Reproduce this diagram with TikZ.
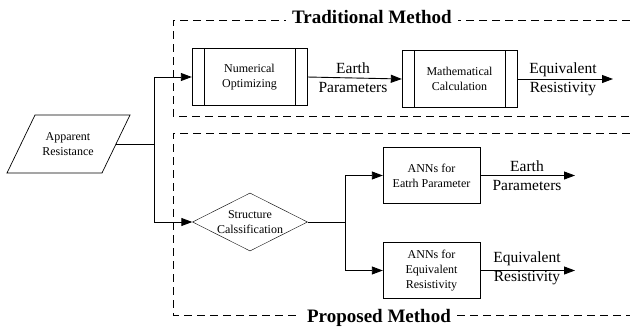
\documentclass[tikz,border=0pt]{standalone}
\usepackage{fontspec}
\setmainfont{Liberation Serif}
\usetikzlibrary{arrows.meta,shapes.geometric}
\tikzset{
  proc/.style={draw,minimum width=115pt,minimum height=57pt,align=center,
    font=\fontsize{12}{15}\selectfont,
    path picture={\draw ([xshift=12pt]path picture bounding box.north west) -- ([xshift=12pt]path picture bounding box.south west);
      \draw ([xshift=-12pt]path picture bounding box.north east) -- ([xshift=-12pt]path picture bounding box.south east);}},
  ann/.style={draw,minimum width=97pt,minimum height=56pt,align=center,font=\fontsize{12}{15}\selectfont},
  flow/.style={-{Triangle[length=11pt,width=8pt]},line width=0.9pt},
  lbl/.style={align=center,font=\fontsize{15.5}{19}\selectfont},
  frame/.style={dashed,dash pattern=on 8pt off 5pt,line width=0.7pt},
  title/.style={fill=white,inner xsep=6pt,font=\fontsize{19}{21}\selectfont\bfseries}
}
\begin{document}
\begin{tikzpicture}[x=1pt,y=-1pt]
\useasboundingbox (0,0) rectangle (630,327);
\draw[frame] (630,20) -- (173,20) -- (173,116) -- (630,116);
\draw[frame] (630,133) -- (173,133) -- (173,315) -- (630,315);
\node[title] (tradT) at (372,17) {Traditional Method};
\node[title] (propT) at (379,318) {Proposed Method};
\draw[line width=0.7pt] (35,115) -- (130,115) -- (102,173) -- (7,173) -- cycle;
\node[align=center,font=\fontsize{12}{15}\selectfont] (appR) at (68,144) {Apparent\\Resistance};
\coordinate (appOut) at (116,144);
\node[proc] (numOpt) at (249.5,77) {Numerical\\Optimizing};
\node[proc] (mathCalc) at (459.5,79) {Mathematical\\Calculation};
\node[diamond,draw,minimum width=115pt,minimum height=58pt,inner sep=0pt,
  label={[align=center,font=\fontsize{12}{15}\selectfont]center:Structure\\Calssification}] (strCls) at (250,222) {};
\node[ann] (annEarth) at (431.5,175.5) {ANNs for\\Eatrh Parameter};
\node[ann] (annEquiv) at (431.5,270.5) {ANNs for\\Equivalent\\Resistivity};
\coordinate (tradOut) at (613,79);
\coordinate (earthOut) at (575,175.5);
\coordinate (equivOut) at (575,270.5);
\draw[flow] (appOut) -- ++(38,0) |- (numOpt.west);
\draw[flow] (appOut) -- ++(38,0) |- (strCls.west);
\draw[flow] (numOpt.east) -- (mathCalc.west);
\draw[flow] (mathCalc.east) -- (tradOut);
\draw[flow] (strCls.east) -- ++(38,0) |- (annEarth.west);
\draw[flow] (strCls.east) -- ++(38,0) |- (annEquiv.west);
\draw[flow] (annEarth.east) -- (earthOut);
\draw[flow] (annEquiv.east) -- (equivOut);
\node[lbl] (parT) at (353,78) {Earth\\Parameters};
\node[lbl] (resT) at (563,79) {Equivalent\\Resistivity};
\node[lbl] (parP) at (527,175.5) {Earth\\Parameters};
\node[lbl] (resP) at (527,268) {Equivalent\\Resistivity};
\end{tikzpicture}
\end{document}
